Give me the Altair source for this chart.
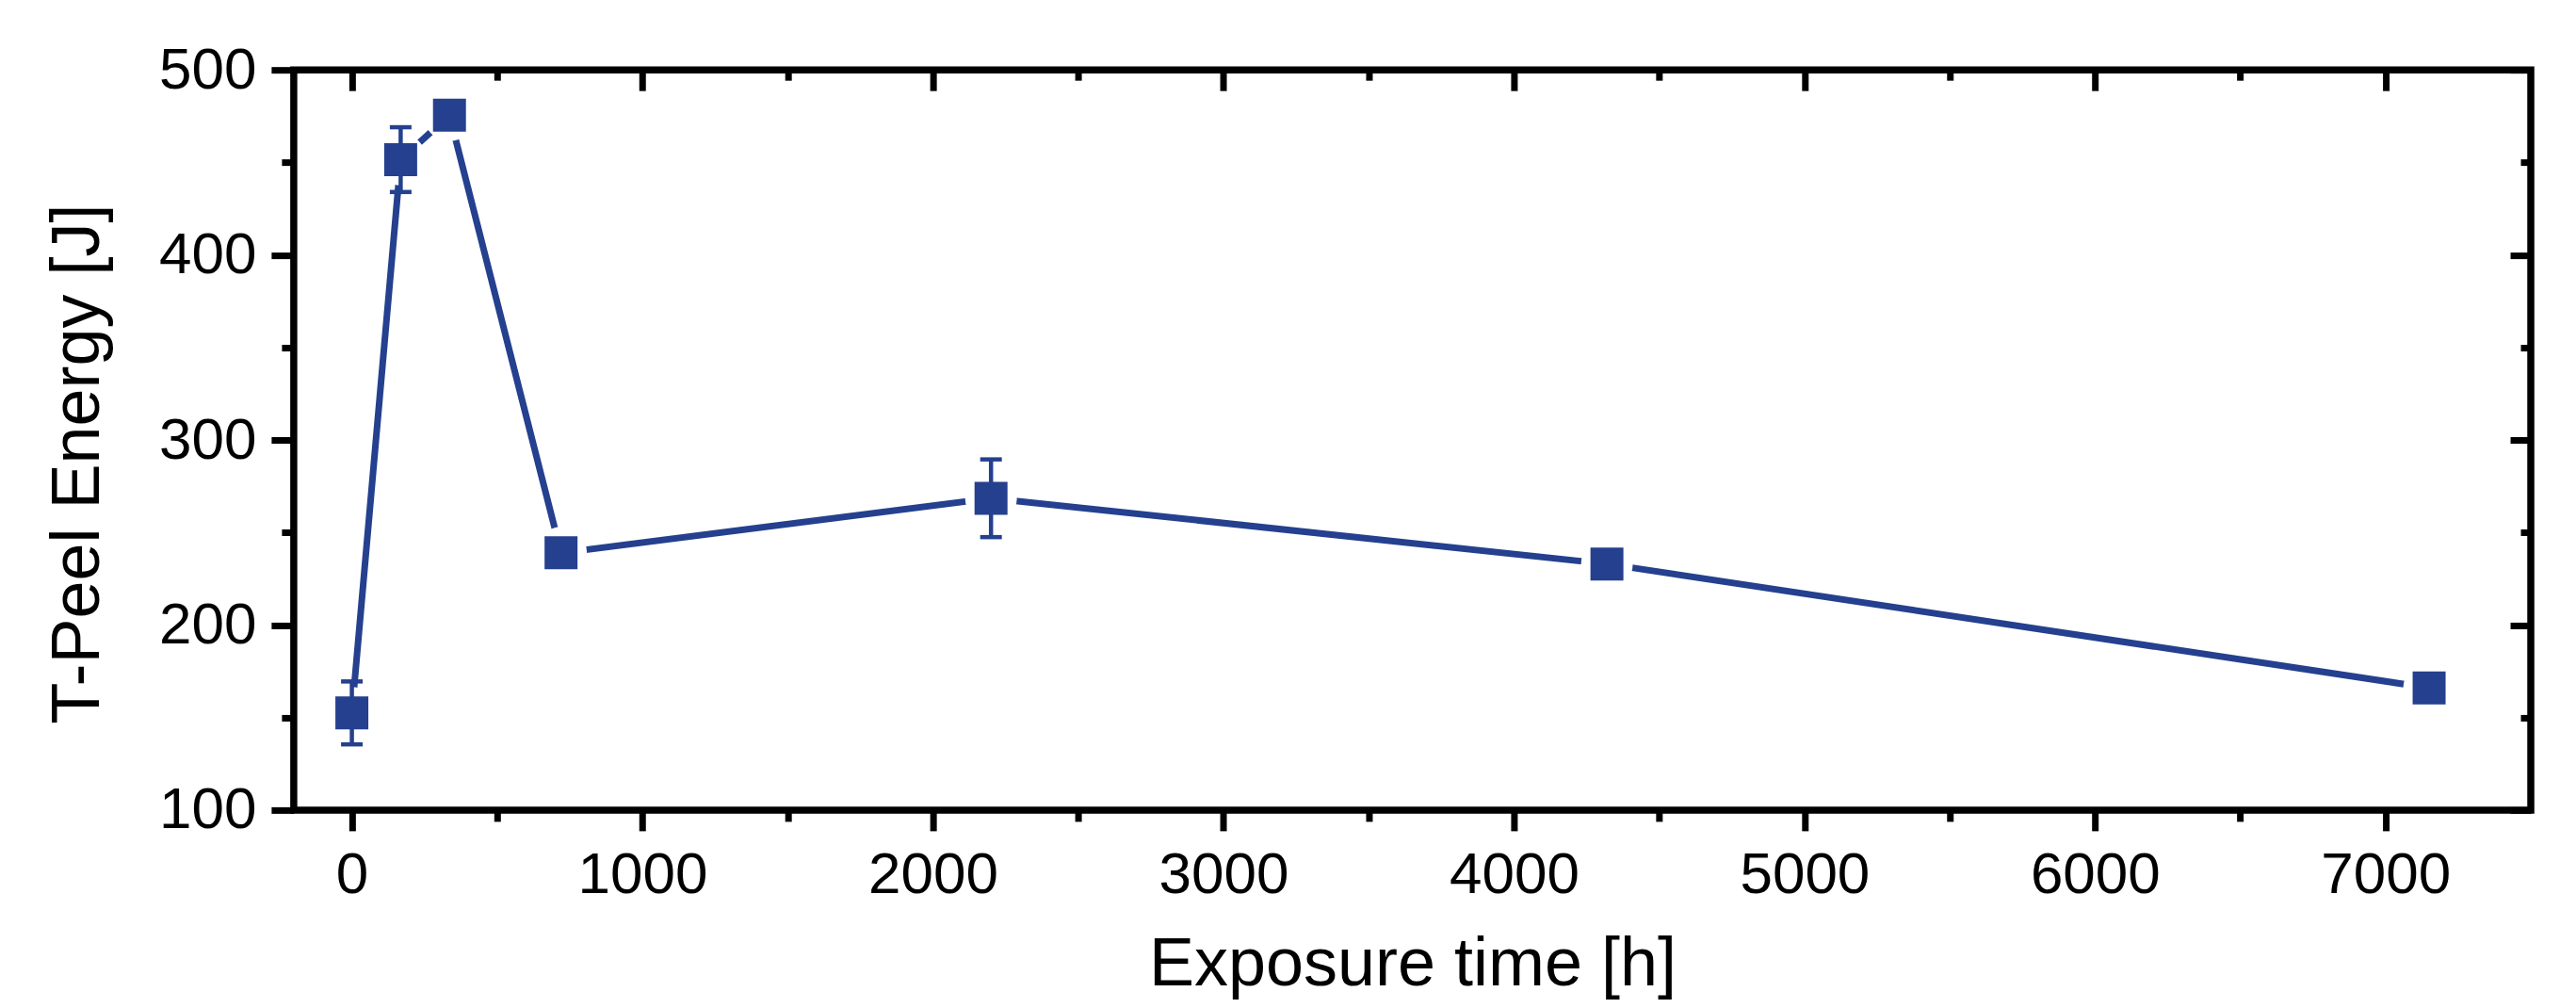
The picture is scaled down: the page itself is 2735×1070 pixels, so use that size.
import altair as alt
import pandas as pd

# ---- data ----
time_h = [0, 168, 336, 720, 2200, 4320, 7150]
energy = [152.5, 451.5, 475.5, 239, 268.5, 233, 166]
err = [17, 17.5, 0, 0, 21, 0, 0]

x_major = [0, 1000, 2000, 3000, 4000, 5000, 6000, 7000]
x_minor = [500, 1500, 2500, 3500, 4500, 5500, 6500]
y_major = [100, 200, 300, 400, 500]
y_minor = [150, 250, 350, 450]

df = pd.DataFrame({
    "t": time_h,
    "e": energy,
    "lo": [v - d for v, d in zip(energy, err)],
    "hi": [v + d for v, d in zip(energy, err)],
})

BLUE = "#24408E"
FONT = "Liberation Sans"
W, H = 2376, 786
TW = 7  # tick width

xs = alt.Scale(domain=[-200, 7500], nice=False, zero=False)
ys = alt.Scale(domain=[100, 500], nice=False, zero=False)


def plain_axis(orient, values, size, offset=0):
    return alt.Axis(orient=orient, values=values, tickSize=size, tickWidth=TW,
                    tickColor="black", domain=False, grid=False, labels=False,
                    offset=offset)


base = alt.Chart(df)

line = base.mark_line(color=BLUE, strokeWidth=7).encode(
    x=alt.X("t:Q", scale=xs, title="Exposure time [h]",
            axis=alt.Axis(orient="bottom", values=x_major, format="d", tickSize=22, tickWidth=TW,
                          tickColor="black", domain=False, grid=False,
                          labelPadding=17, labelFontSize=62, labelFlush=False,
                          titleFontSize=72, titleX=W / 2, titleY=186,
                          titleBaseline="alphabetic", titleAlign="center")),
    y=alt.Y("e:Q", scale=ys, title="T-Peel Energy [J]",
            axis=alt.Axis(orient="left", values=y_major, format="d", tickSize=24, tickWidth=TW,
                          tickColor="black", domain=False, grid=False,
                          labelPadding=16, labelFontSize=62, labelFlush=False,
                          titleFontSize=72, titleX=-207, titleY=418, titleAngle=270,
                          titleBaseline="alphabetic", titleAlign="center")),
)

gaps = base.mark_point(shape="circle", filled=True, color="white", opacity=1, size=3025).encode(
    x=alt.X("t:Q", scale=xs, title="", axis=plain_axis("bottom", x_minor, 12)),
    y=alt.Y("e:Q", scale=ys, title="", axis=plain_axis("left", y_minor, 13)),
)

bars = base.mark_rule(color=BLUE, strokeWidth=4.5).encode(
    x=alt.X("t:Q", scale=xs, title="", axis=plain_axis("top", x_major, 22, -22)),
    y=alt.Y("lo:Q", scale=ys, title="", axis=plain_axis("right", y_major, 22, -22)),
    y2="hi:Q",
)

cap_hi = base.mark_rule(color=BLUE, strokeWidth=4.5, xOffset=-11.5, x2Offset=11.5).encode(
    x=alt.X("t:Q", scale=xs, title="", axis=plain_axis("top", x_minor, 11, -11)),
    x2="t:Q",
    y=alt.Y("hi:Q", scale=ys, title="", axis=plain_axis("right", y_minor, 11, -11)),
)

cap_lo = base.mark_rule(color=BLUE, strokeWidth=4.5, xOffset=-11.5, x2Offset=11.5).encode(
    x=alt.X("t:Q", scale=xs, axis=None),
    x2="t:Q",
    y=alt.Y("lo:Q", scale=ys, axis=None),
)

squares = base.mark_point(shape="square", filled=True, color=BLUE, opacity=1, size=1225).encode(
    x=alt.X("t:Q", scale=xs, axis=None),
    y=alt.Y("e:Q", scale=ys, axis=None),
)

chart = (
    alt.layer(line, gaps, bars, cap_hi, cap_lo, squares)
    .resolve_axis(x="independent", y="independent")
    .properties(
        width=W, height=H,
        autosize=alt.AutoSizeParams(type="none"),
        padding={"left": 304, "top": 66, "right": 40, "bottom": 202},
    )
    .configure_view(stroke="black", strokeWidth=7.5)
    .configure_axis(labelFont=FONT, titleFont=FONT, labelColor="black",
                    titleColor="black", titleFontWeight="normal")
)

chart.save("out.html", embed_options={"renderer": "svg", "actions": False})
